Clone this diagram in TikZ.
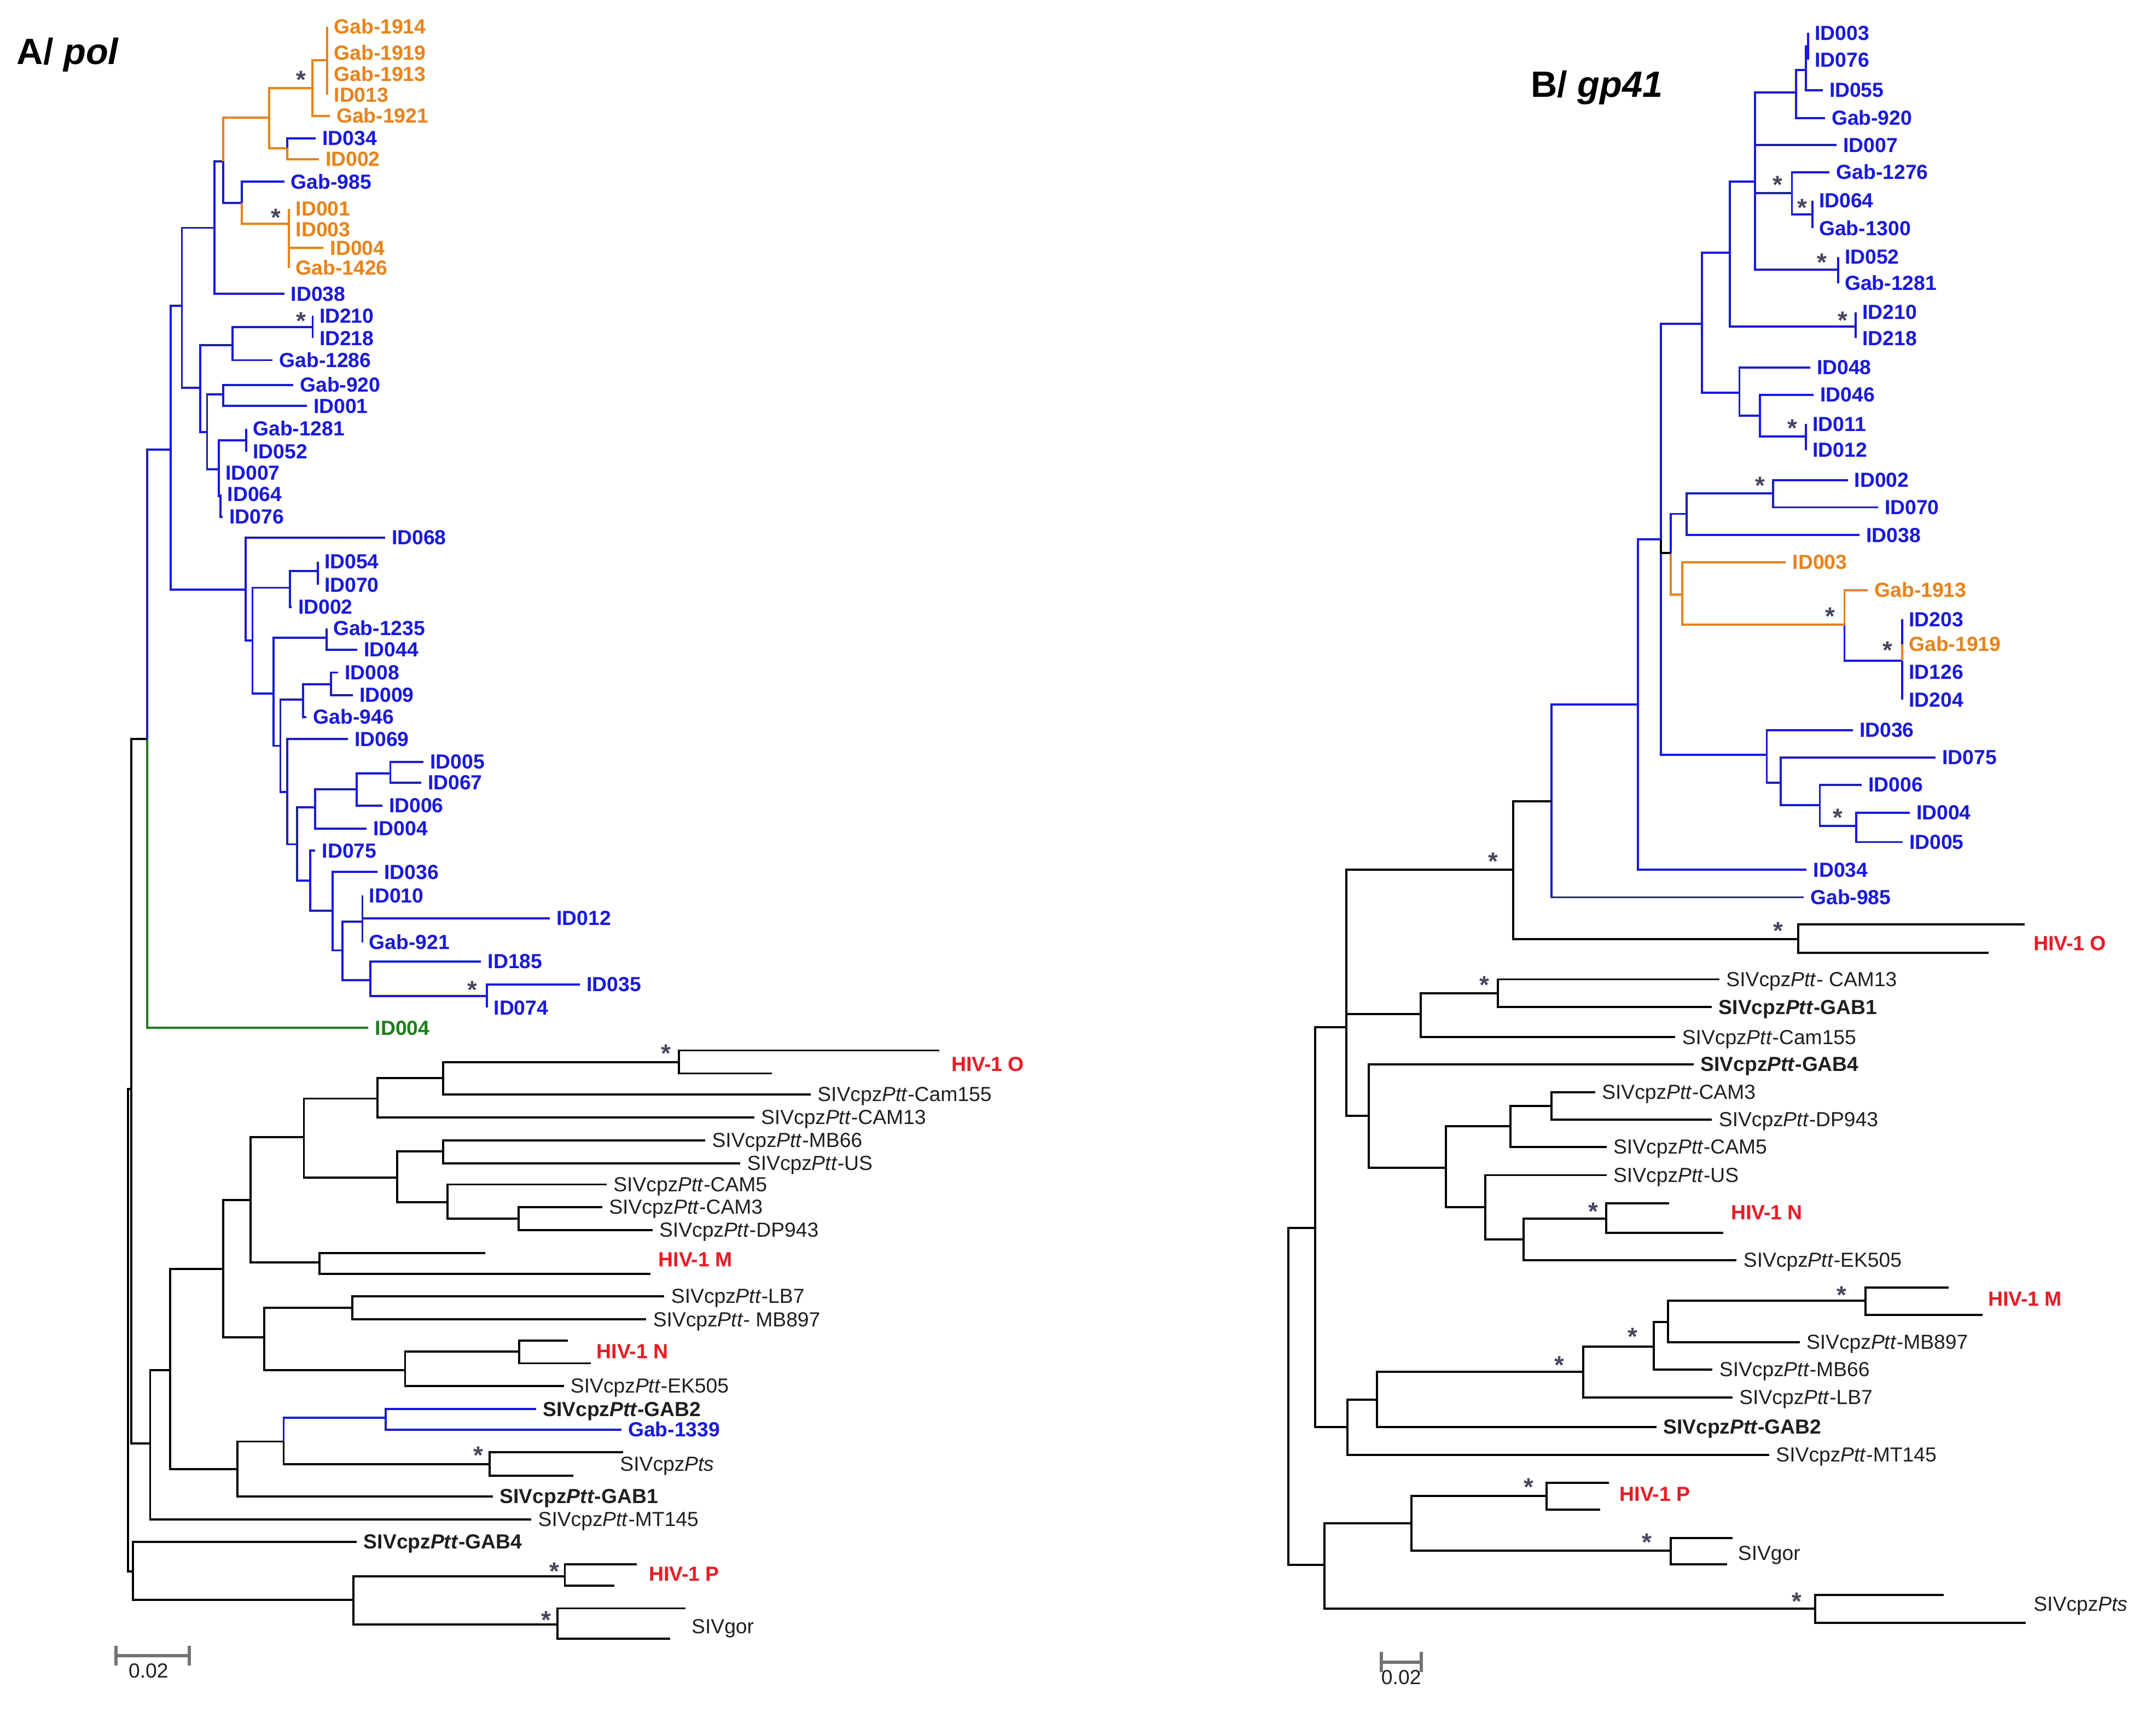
\documentclass[tikz,border=0pt]{standalone}
\usepackage{fontspec}
\setmainfont{Liberation Sans}
\usetikzlibrary{positioning}
\definecolor{tblue}{RGB}{22,22,245}
\definecolor{torange}{RGB}{240,128,20}
\definecolor{tred}{RGB}{250,20,30}
\definecolor{tgreen}{RGB}{20,130,20}
\definecolor{tgrey}{RGB}{70,70,95}
\definecolor{tink}{RGB}{30,30,30}
\newcommand{\lblsize}{\fontsize{10.6}{12}\selectfont}
\newcommand{\siv}[1]{SIVcpz\textit{Ptt}-#1}
\newcommand{\sivb}[1]{\textbf{SIVcpz\textit{Ptt}-#1}}
\tikzset{
	branch/.style={line width=1.1pt, black},
	bbranch/.style={branch, tblue},
	obranch/.style={branch, torange},
	gbranch/.style={branch, tgreen},
	lbl/.style={inner sep=0.5pt, font=\lblsize, text=tink},
	lblb/.style={lbl, font=\lblsize\bfseries, text=tblue},
	lblo/.style={lbl, font=\lblsize\bfseries, text=torange},
	lblr/.style={lbl, font=\lblsize\bfseries, text=tred},
	lblg/.style={lbl, font=\lblsize\bfseries, text=tgreen},
	boot/.style={inner sep=0pt, font=\fontsize{13}{14}\selectfont\bfseries, text=tgrey, yshift=-2.2pt},
	ttl/.style={inner sep=0pt, font=\fontsize{19}{22}\selectfont\bfseries, anchor=mid west},
	scalebar/.style={line width=1.6pt, black!55, |-|}
}
\begin{document}
\begin{tikzpicture}[x=0.025133cm, y=-0.025133cm]
	\useasboundingbox (0,0) rectangle (1568,1245);
	% panel A: internal nodes
	\foreach \n/\x/\y in {aR/93/967, aN1/95.6/792.2, aI/107/537.6, aB1/124/327.1, aB2/132.3/222.4,
		aB3/178.6/429, aB4/156/165.7, aB5/145.7/282.1, aB6/162.2/117.3, aO1/195.8/85.7, aO2/227.3/64,
		aO3/209/107.7, aO4/238/43.9, aB7/175.9/147.7, aO5/210.2/162.6, aB8/169/251, aB9/150.6/314.3,
		aB10/227.4/237.9, aB11/162.4/286.8, aB12/159/341.2, aB13/179/320.4, aB14/160.5/360.7,
		aB15/183.6/466, aB16/210.8/427.5, aB17/198.9/504.4, aB18/231/415.4, aB19/237.4/464,
		aB20/203.9/542.5, aB21/220.4/509, aB22/209/576, aB23/240.7/497.6, aB24/216.1/614.1,
		aB25/229.3/587.4, aB26/225.5/640.6, aB27/259.3/574.1, aB28/283.9/562.6, aB29/242/662.5,
		aB30/249.1/691.3, aB31/263.6/670.5, aB32/269.4/713, aB33/354.2/724.5,
		aN2/109.2/1050, aN3/123.7/996.5, aN4/162.5/923.2, aN5/172.8/1068.6, aN6/182.1/873,
		aN7/192.2/972.7, aN8/221/827.3, aN9/232.4/918.4, aN10/274.4/799.1, aN11/289/856.5,
		aN12/322.4/784.3, aN13/493.7/772.5, aN14/322.4/837.6, aN15/325.6/874.5, aN16/377.2/886.4,
		aN17/256.1/951.4, aN18/294.6/996.5, aN19/377.6/983, aN20/206.3/1048.6, aN21/280.5/1031.3,
		aN22/356/1065, aN23/96.6/1143.2, aN24/257/1163.6, aN25/410.8/1146.6, aN26/405.4/1181.6}
		\coordinate (\n) at (\x,\y);
	% panel A: tips
	\foreach \n/\x/\y in {aGab1914/238/19.5, aGab1919/238/38.6, aGab1913/238/54, aID013/238/69,
		aGab1921/239.8/84.2, aID034/229.6/100.5, aID002o/231.8/115.7, aGab985/206.7/132.2,
		aID001o/210.2/152, aID003o/210.2/167, aID004o/235.3/180.4, aGab1426/210.2/195,
		aID038/206.7/213.8, aID210/227.4/229.7, aID218/227.4/246, aGab1286/198.2/262,
		aGab920/213.2/280.1, aID001/223.1/295.3, aGab1281/179/312, aID052/179/328.5,
		aID007/159/344, aID064/160.5/359.5, aID076/162/376, aID068/280/391, aID054/231/408.5,
		aID070/231/425.5, aID002/212/441.5, aGab1235/237.4/457, aID044/259.8/472.7,
		aID008/245.9/489.2, aID009/256.5/505.7, aGab946/223/521.5, aID069/252.9/537.6,
		aID005/308/554.2, aID067/306.2/569.2, aID006/278/585.9, aID004/266.6/602.6,
		aID075/229.3/618.8, aID036/274.5/634.3, aID010/263.6/651.5, aID012/399.8/667.9,
		aGab921/263.6/685.5, aID185/349.9/699.3, aID035/421.7/716, aID074/354.2/733,
		aID004g/267.9/747.7, aOa/683.3/764.1, aOb/561.3/780.8, aCam155/589.6/796.1,
		aCAM13/548.5/812.8, aMB66/512.9/829.6, aUS/538.5/846.3, aCAM5/441.2/861.6,
		aCAM3/438/878, aDP943/474.5/894.8, aMa/353/911.5, aMb/473.1/926.6, aLB7/483.2/943,
		aMB897/470/959.8, aNa/412.8/975, aNb/429.8/991.7, aEK505/410/1008.2, aGAB2/389.9/1025,
		aGab1339/451.9/1040, aPtsa/453/1056.5, aPtsb/416.9/1073.3, aGAB1/358.6/1088.5,
		aMT145/386.4/1105.2, aGAB4/259.6/1121.6, aPa/463.3/1138, aPb/447/1153.5,
		agora/498.7/1169.9, agorb/487.3/1192}
		\coordinate (\n) at (\x,\y);
	% panel B: internal nodes
	\foreach \n/\x/\y in {bR/936.9/1015, bN1/956.5/893.1, bN2/963.1/1138.2, bN3/979/747.3,
		bN4/979.8/1038.1, bN5/1100.6/632.5, bN6/1033.1/737.7, bN7/995.6/811.5, bN8/1307.9/683,
		bI/1128.4/583, bB1/1191.2/512.3, bB2/1207.8/392.4, bB3/1237.8/235.6, bB4/1215/402.2,
		bB5/1284.9/549.1, bB6/1258.1/183.9, bB7/1265/285.8, bB8/1276.4/132, bB9/1349.5/237.5,
		bB10/1306.3/67.3, bB11/1303.2/140.5, bB12/1336.7/196, bB13/1313.4/51.1, bB14/1315/33.8,
		bB15/1318/155.9, bB16/1279.9/302.4, bB17/1313.4/317.5, bB18/1226.5/373.8,
		bB19/1289.6/359, bO1/1223.4/432.4, bO2/1341.4/454.2, bB20/1383.4/480.7,
		bB21/1295/569.4, bB22/1323.5/585.6, bB23/1350/600.9, bN9/1089.3/722.5,
		bN10/1051.4/849.6, bN11/1098.5/819.2, bN12/1080.1/878, bN13/1128.4/804.4,
		bN14/1108.1/901.4, bN15/1168/886.5, bN16/1001.4/1018, bN17/1151.4/998,
		bN18/1202.6/979.6, bN19/1213/961.5, bN20/1356.7/946.2, bN21/1026.4/1108.1,
		bN22/1320/1170.2, bN23/1124.7/1088.3, bN24/1215.1/1128.1}
		\coordinate (\n) at (\x,\y);
	% panel B: tips
	\foreach \n/\x/\y in {bID003/1315/24, bID076/1315/43.5, bID055/1325.5/65.7, bGab920/1327.1/85.8,
		bID007/1335.7/105.6, bGab1276/1330.6/125.4, bID064/1318/146, bGab1300/1318/166,
		bID052/1336.7/187, bGab1281/1336.7/206, bID210/1349.5/227, bID218/1349.5/246,
		bID048/1316.4/267.2, bID046/1318.9/287.1, bID011/1313.4/308.5, bID012/1313.4/327.5,
		bID002/1343.8/349.3, bID070/1365.7/369, bID038/1352.4/389.2, bID003o/1298.8/409,
		bGab1913/1358.4/429.2, bID203/1383.4/450.5, bGab1919/1383.4/468.5, bID126/1383.4/489,
		bID204/1383.4/509, bID036/1347.5/531, bID075/1407.6/550.9, bID006/1353.9/570.8,
		bID004/1388.8/591.2, bID005/1383.6/612.5, bID034/1313.9/632.7, bGab985/1311.7/652.7,
		bOa/1472.4/672.5, bOb/1446.2/693, bCAM13/1250.5/712.4, bGAB1/1245.1/732.6,
		bCam155/1218.4/754.5, bGAB4/1231.8/774.3, bCAM3/1160.1/794.5, bDP943/1245.1/814.3,
		bCAM5/1168.4/834.4, bUS/1168.4/854.8, bNa/1213.9/875.2, bNb/1253.4/896.7,
		bEK505/1263/916.7, bMa/1417.1/936.7, bMb/1442/956.3, bMB897/1308.8/976.3,
		bMB66/1245.5/996.1, bLB7/1260/1016.4, bGAB2/1204.7/1038.1, bMT145/1286.7/1058.2,
		bPa/1170.1/1078.6, bPb/1163.9/1098.2, bgora/1260/1118.7, bgorb/1255.9/1137.8,
		bPtsa/1413.7/1160.1, bPtsb/1473.3/1180.3}
		\coordinate (\n) at (\x,\y);
	% branches
	\foreach \p/\c in {aI/aB1, aB1/aB2, aB1/aB3, aB2/aB4, aB2/aB5, aB4/aB6, aB4/aID038, aB6/aB7,
		aB7/aGab985, aO3/aID034, aB5/aB8, aB5/aB9, aB8/aB10, aB8/aGab1286, aB10/aID210, aB10/aID218,
		aB9/aB11, aB9/aB12, aB11/aGab920, aB11/aID001, aB12/aB13, aB12/aID007, aB12/aB14,
		aB13/aGab1281, aB13/aID052, aB14/aID064, aB14/aID076, aB3/aID068, aB3/aB15, aB15/aB16,
		aB15/aB17, aB16/aB18, aB16/aID002, aB18/aID054, aB18/aID070, aB17/aB19, aB17/aB20,
		aB19/aGab1235, aB19/aID044, aB20/aB21, aB20/aB22, aB21/aB23, aB21/aGab946, aB23/aID008,
		aB23/aID009, aB22/aID069, aB22/aB24, aB24/aB25, aB24/aB26, aB25/aB27, aB25/aID004,
		aB27/aB28, aB27/aID006, aB28/aID005, aB28/aID067, aB26/aID075, aB26/aB29, aB29/aID036,
		aB29/aB30, aB30/aB31, aB30/aB32, aB31/aID010, aB31/aID012, aB31/aGab921, aB32/aID185,
		aB32/aB33, aB33/aID035, aB33/aID074, aN20/aN21, aN21/aGAB2, aN21/aGab1339,
		bI/bB1, bI/bGab985, bB1/bB2, bB1/bID034, bB2/bB3, bB2/bB5, bB3/bB6, bB3/bB7, bB6/bB8,
		bB6/bB9, bB8/bB10, bB8/bID007, bB8/bB11, bB8/bB12, bB10/bB13, bB10/bGab920, bB13/bB14,
		bB13/bID055, bB14/bID003, bB14/bID076, bB11/bGab1276, bB11/bB15, bB15/bID064,
		bB15/bGab1300, bB12/bID052, bB12/bGab1281, bB9/bID210, bB9/bID218, bB7/bID048, bB7/bB16,
		bB16/bID046, bB16/bB17, bB17/bID011, bB17/bID012, bB4/bB18, bB18/bB19, bB18/bID038,
		bB19/bID002, bB19/bID070, bO2/bB20, bB20/bID203, bB20/bID126, bB20/bID204, bB5/bID036,
		bB5/bB21, bB21/bID075, bB21/bB22, bB22/bID006, bB22/bB23, bB23/bID004, bB23/bID005}
		\draw[bbranch] (\p) |- (\c);
	\foreach \p/\c in {aB6/aO1, aO1/aO2, aO1/aO3, aO2/aO4, aO2/aGab1921, aO4/aGab1914,
		aO4/aGab1919, aO4/aGab1913, aO4/aID013, aO3/aID002o, aB7/aO5, aO5/aID001o, aO5/aID003o,
		aO5/aID004o, aO5/aGab1426, bB4/bO1, bO1/bID003o, bO1/bO2, bO2/bGab1913, bB20/bGab1919}
		\draw[obranch] (\p) |- (\c);
	\draw[gbranch] (aI) |- (aID004g);
	\foreach \p/\c in {aR/aN1, aR/aN23, aN1/aI, aN1/aN2, aN2/aN3, aN2/aMT145, aN3/aN4, aN3/aN5,
		aN4/aN6, aN4/aN7, aN6/aN8, aN6/aN9, aN8/aN10, aN8/aN11, aN10/aN12, aN10/aCAM13,
		aN12/aN13, aN12/aCam155, aN13/aOa, aN13/aOb, aN11/aN14, aN11/aN15, aN14/aMB66,
		aN14/aUS, aN15/aCAM5, aN15/aN16, aN16/aCAM3, aN16/aDP943, aN9/aMa, aN9/aMb, aN7/aN17,
		aN7/aN18, aN17/aLB7, aN17/aMB897, aN18/aN19, aN18/aEK505, aN19/aNa, aN19/aNb,
		aN5/aN20, aN5/aGAB1, aN20/aN22, aN22/aPtsa, aN22/aPtsb, aN23/aGAB4, aN23/aN24,
		aN24/aN25, aN24/aN26, aN25/aPa, aN25/aPb, aN26/agora, aN26/agorb,
		bR/bN1, bR/bN2, bN1/bN3, bN1/bN4, bN3/bN5, bN3/bN6, bN3/bN7, bN5/bI, bN5/bN8, bN8/bOa,
		bN8/bOb, bB2/bB4, bN6/bN9, bN6/bCam155, bN9/bCAM13, bN9/bGAB1, bN7/bGAB4, bN7/bN10,
		bN10/bN11, bN10/bN12, bN11/bN13, bN11/bCAM5, bN13/bCAM3, bN13/bDP943, bN12/bUS,
		bN12/bN14, bN14/bN15, bN14/bEK505, bN15/bNa, bN15/bNb, bN4/bN16, bN4/bMT145,
		bN16/bN17, bN16/bGAB2, bN17/bN18, bN17/bLB7, bN18/bN19, bN18/bMB66, bN19/bN20,
		bN19/bMB897, bN20/bMa, bN20/bMb, bN2/bN21, bN2/bN22, bN21/bN23, bN21/bN24, bN23/bPa,
		bN23/bPb, bN24/bgora, bN24/bgorb, bN22/bPtsa, bN22/bPtsb}
		\draw[branch] (\p) |- (\c);
	% tip labels
	\foreach \t/\txt in {aID034/ID034, aGab985/Gab-985, aID038/ID038, aID210/ID210, aID218/ID218,
		aGab1286/Gab-1286, aGab920/Gab-920, aID001/ID001, aGab1281/Gab-1281, aID052/ID052,
		aID007/ID007, aID064/ID064, aID076/ID076, aID068/ID068, aID054/ID054, aID070/ID070,
		aID002/ID002, aGab1235/Gab-1235, aID044/ID044, aID008/ID008, aID009/ID009,
		aGab946/Gab-946, aID069/ID069, aID005/ID005, aID067/ID067, aID006/ID006, aID004/ID004,
		aID075/ID075, aID036/ID036, aID010/ID010, aID012/ID012, aGab921/Gab-921, aID185/ID185,
		aID035/ID035, aID074/ID074, aGab1339/Gab-1339,
		bID003/ID003, bID076/ID076, bID055/ID055, bGab920/Gab-920, bID007/ID007,
		bGab1276/Gab-1276, bID064/ID064, bGab1300/Gab-1300, bID052/ID052, bGab1281/Gab-1281,
		bID210/ID210, bID218/ID218, bID048/ID048, bID046/ID046, bID011/ID011, bID012/ID012,
		bID002/ID002, bID070/ID070, bID038/ID038, bID203/ID203, bID126/ID126, bID204/ID204,
		bID036/ID036, bID075/ID075, bID006/ID006, bID004/ID004, bID005/ID005, bID034/ID034,
		bGab985/Gab-985}
		\node[lblb, right=1mm of \t, anchor=mid west, yshift=-1pt] (l\t) {\txt};
	\foreach \t/\txt in {aGab1914/Gab-1914, aGab1919/Gab-1919, aGab1913/Gab-1913, aID013/ID013,
		aGab1921/Gab-1921, aID002o/ID002, aID001o/ID001, aID003o/ID003, aID004o/ID004,
		aGab1426/Gab-1426, bID003o/ID003, bGab1913/Gab-1913, bGab1919/Gab-1919}
		\node[lblo, right=1mm of \t, anchor=mid west, yshift=-1pt] (l\t) {\txt};
	\node[lblg, right=1mm of aID004g, anchor=mid west, yshift=-1pt] (laID004g) {ID004};
	\foreach \t/\txt in {aCam155/\siv{Cam155}, aCAM13/\siv{CAM13}, aMB66/\siv{MB66}, aUS/\siv{US},
		aCAM5/\siv{CAM5}, aCAM3/\siv{CAM3}, aDP943/\siv{DP943}, aLB7/\siv{LB7}, aMB897/\siv{ MB897},
		aEK505/\siv{EK505}, aGAB2/\sivb{GAB2}, aGAB1/\sivb{GAB1}, aMT145/\siv{MT145}, aGAB4/\sivb{GAB4},
		bCAM13/\siv{ CAM13}, bGAB1/\sivb{GAB1}, bCam155/\siv{Cam155}, bGAB4/\sivb{GAB4},
		bCAM3/\siv{CAM3}, bDP943/\siv{DP943}, bCAM5/\siv{CAM5}, bUS/\siv{US}, bEK505/\siv{EK505},
		bMB897/\siv{MB897}, bMB66/\siv{MB66}, bLB7/\siv{LB7}, bGAB2/\sivb{GAB2}, bMT145/\siv{MT145}}
		\node[lbl, right=1mm of \t, anchor=mid west, yshift=-1pt] (l\t) {\txt};
	% group labels
	\foreach \n/\x/\y/\txt in {gaO/691/774/HIV-1 O, gaM/478/916/HIV-1 M, gaN/433/983/HIV-1 N,
		gaP/471/1145/HIV-1 P, gbO/1478/686/HIV-1 O, gbN/1258/882/HIV-1 N, gbM/1445/945/HIV-1 M,
		gbP/1177/1087/HIV-1 P}
		\node[lblr, anchor=mid west, yshift=-1pt] (\n) at (\x,\y) {\txt};
	\foreach \n/\x/\y/\txt in {gaPts/450/1065/SIVcpz\textit{Pts}, gagor/502/1183/SIVgor,
		gbPts/1478/1167/SIVcpz\textit{Pts}, gbgor/1263/1130/SIVgor}
		\node[lbl, anchor=mid west, yshift=-1pt] (\n) at (\x,\y) {\txt};
	% support stars
	\foreach \x/\y [count=\i] in {218.8/55, 200.5/155, 219/230.5, 343.5/717, 484.5/763.3,
		348/1055.7, 403/1139.8, 397.4/1175.2, 1292.7/131.5, 1310.7/148, 1325.1/188, 1340.2/229.8,
		1303.6/308.2, 1279.9/350.3, 1331.2/445.3, 1372.8/469.9, 1336.7/591.6, 1086/623.6,
		1293.4/674, 1079.7/713.4, 1158.9/878.3, 1339.2/939.1, 1187.2/969.2, 1133.9/989.8,
		1111.8/1078.7, 1197.6/1118.7, 1306.7/1161.9}
		\node[boot] (s\i) at (\x,\y) {*};
	% titles and scale bars
	\node[ttl] (ttlA) at (12,43) {A/ \textit{pol}};
	\node[ttl] (ttlB) at (1113,67) {B/ \textit{gp41}};
	\coordinate (sbA1) at (83.3,1204.4);
	\coordinate (sbA2) at (138.9,1204.4);
	\coordinate (sbB1) at (1003.5,1209);
	\coordinate (sbB2) at (1034.8,1209);
	\draw[scalebar] (sbA1) -- (sbA2);
	\draw[scalebar] (sbB1) -- (sbB2);
	\node[lbl, below=1.2mm of sbA1, anchor=north, xshift=0.62cm] (scA) {0.02};
	\node[lbl, below=1.2mm of sbB1, anchor=north, xshift=0.39cm] (scB) {0.02};
\end{tikzpicture}
\end{document}
